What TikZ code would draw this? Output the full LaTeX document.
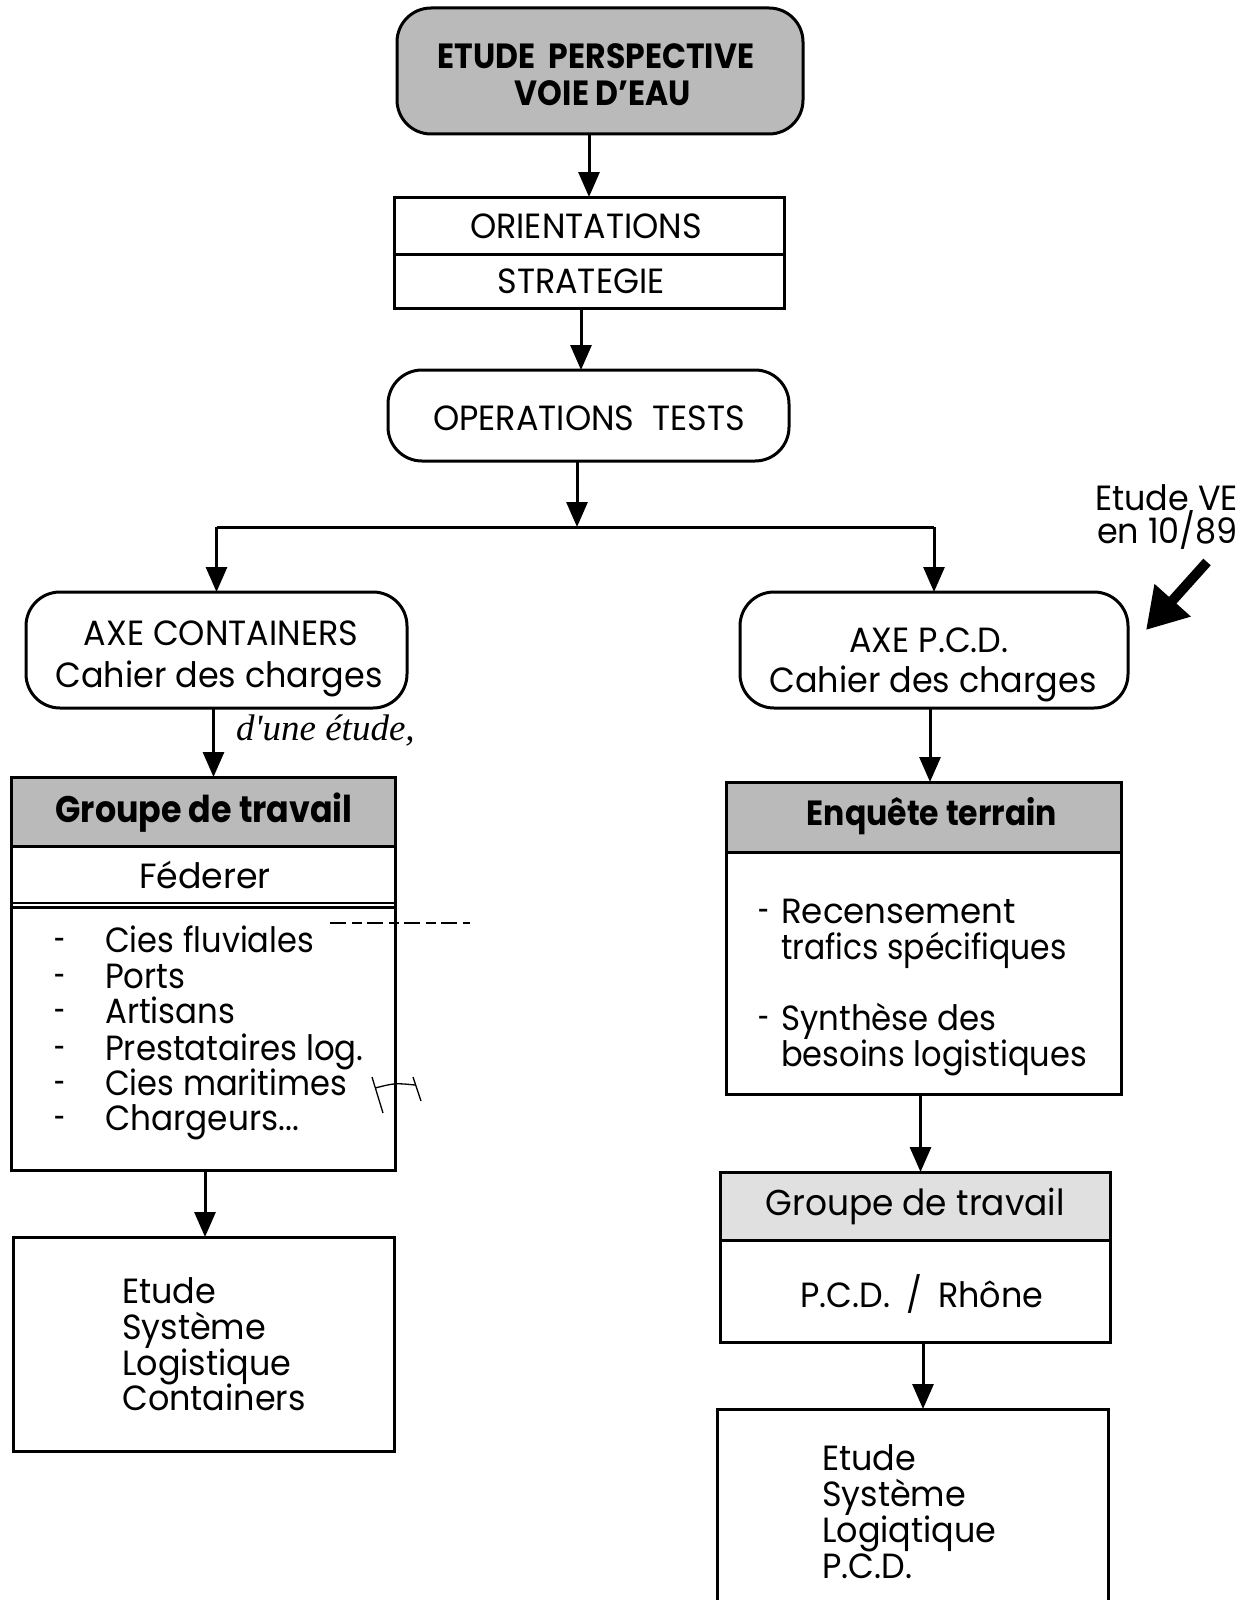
\documentclass[tikz,border=0pt]{standalone}
\usepackage{graphicx}
\usepackage{fontspec}
\setmainfont{Poppins}[FakeStretch=0.955, BoldFeatures={FakeStretch=0.9}]
\newfontfamily\handfont{Liberation Serif}
\usetikzlibrary{arrows.meta}
\newcommand\dgbody{\fontsize{35}{37}\selectfont}
\newcommand\dghead{\fontsize{35}{37}\selectfont\bfseries}
\newcommand\shortdash{\scalebox{0.6}[1]{-}}
\newcommand\narrow[2]{\scalebox{#1}[1]{#2}}
\begin{document}
\begin{tikzpicture}[x=1pt,y=-1pt,
  frame/.style={draw, line width=3pt, inner sep=0pt, outer sep=0pt},
  sqbox/.style={frame, rectangle},
  rbox/.style={frame, rounded corners=34pt},
  halftone/.style={fill=black!27},
  lighttone/.style={fill=black!12},
  flow/.style={line width=3pt, -{Triangle[length=25pt,width=21pt]}},
  lbl/.style={anchor=base, inner sep=0pt, font=\dgbody},
  hlbl/.style={anchor=base, inner sep=0pt, font=\dghead},
  item/.style={anchor=base west, inner sep=0pt, font=\dgbody},
]
\useasboundingbox (0,0) rectangle (1256,1600);
\fill[white] (0,0) rectangle (1256,1600);
\clip (0,0) rectangle (1256,1600);

% --- main column ---
\node[rbox, halftone, minimum width=406, minimum height=126] (top) at (600,71) {};
\node[hlbl] (top1) at (596,69) {ETUDE\ \ PERSPECTIVE};
\node[hlbl] (top2) at (603,106) {VOIE D'EAU};

\node[sqbox, minimum width=390, minimum height=57] (orient) at (589,225.5) {};
\node[sqbox, minimum width=390, minimum height=54] (strat) at (589,281) {};
\node[lbl] (orientt) at (586,238) {ORIENTATIONS};
\node[lbl] (stratt) at (581,293) {STRATEGIE};

\node[rbox, minimum width=401, minimum height=91] (optests) at (588.5,415.5) {};
\node[lbl] (optestst) at (589,430) {OPERATIONS\ \ TESTS};

\coordinate (split) at (577,527);

% --- two axes ---
\node[rbox, minimum width=381, minimum height=116] (axec) at (216.5,650) {};
\node[lbl] (axec1) at (221,645) {AXE CONTAINERS};
\node[lbl] (axec2) at (219,687) {Cahier des charges};

\node[rbox, minimum width=388, minimum height=116] (axep) at (934,650) {};
\node[lbl] (axep1) at (929,652) {AXE P.C.D.};
\node[lbl] (axep2) at (933,692) {Cahier des charges};

% --- left branch ---
\node[sqbox, halftone, minimum width=384, minimum height=69] (grp1h) at (203,811.5) {};
\node[sqbox, minimum width=384, minimum height=61] (fed) at (203,876.5) {};
\node[sqbox, minimum width=384, minimum height=263] (list1) at (203,1038.5) {};
\draw[line width=2pt] ([yshift=4pt]list1.north west) -- ([yshift=4pt]list1.north east);
\node[hlbl, font=\fontsize{37}{39}\selectfont\bfseries] (grp1t) at (204,822) {Groupe de travail};
\node[lbl] (fedt) at (205,888) {\narrow{1.04}{Féderer}};
\foreach \i/\y/\s/\t in {1/952/0.96/{Cies fluviales}, 2/988/0.97/{Ports}, 3/1023/0.97/{Artisans},
                      4/1060/0.97/{Prestataires log.}, 5/1095/0.96/{Cies maritimes}, 6/1130/0.98/{Chargeurs.{}.{}.}}{
  \node[lbl] (dl\i) at (60,\y) {\shortdash};
  \node[item] (il\i) at (105,\y) {\narrow{\s}{\t}};
}

\node[sqbox, minimum width=381, minimum height=214] (etude1) at (203.5,1344) {};
\foreach \i/\y/\t in {1/1303/Etude, 2/1339/Système, 3/1375/Logistique, 4/1410/Containers}{
  \node[item] (e1l\i) at (122,\y) {\t};
}

% --- right branch ---
\node[sqbox, halftone, minimum width=395, minimum height=70] (enqh) at (923.5,817) {};
\node[sqbox, minimum width=395, minimum height=242] (enqb) at (923.5,973) {};
\node[hlbl] (enqt) at (932,825) {Enquête terrain};
\node[lbl] (dr1) at (764,923) {\shortdash};
\node[item] (ir1) at (781,923) {\narrow{1.02}{Recensement}};
\node[item] (ir2) at (781,959) {\narrow{0.94}{trafics spécifiques}};
\node[lbl] (dr3) at (764,1030) {\shortdash};
\node[item] (ir3) at (781,1030) {\narrow{0.97}{Synthèse des}};
\node[item] (ir4) at (781,1066) {\narrow{0.96}{besoins logistiques}};

\node[sqbox, lighttone, minimum width=390, minimum height=68] (grp2h) at (915,1206) {};
\node[sqbox, minimum width=390, minimum height=102] (pcd) at (915,1291) {};
\node[lbl, font=\fontsize{36}{38}\selectfont] (grp2t) at (915,1215) {Groupe de travail};
\node[lbl] (pcdt) at (922,1307) {P.C.D.\hspace{7pt} /\hspace{7pt} Rhône};

\node[sqbox, minimum width=391, minimum height=210, anchor=north] (etude2) at (912.5,1409) {};
\foreach \i/\y/\t in {1/1470/Etude, 2/1506/Système, 3/1542/Logiqtique, 4/1578/P.C.D.}{
  \node[item] (e2l\i) at (822,\y) {\t};
}

% --- annotation ---
\node[anchor=base east, inner sep=0pt, font=\dgbody] (ve1) at (1238,510) {Etude VE};
\node[anchor=base east, inner sep=0pt, font=\dgbody] (ve2) at (1238,543) {en 10/89};
\coordinate (vetail) at (1207,562);
\coordinate (vetip) at (1146,630);
\draw[line width=10pt, -{Triangle[length=40pt,width=46pt]}] (vetail) -- (vetip);

% --- connectors ---
\draw[flow] (orient.north |- top.south) -- (orient.north);
\draw[flow] ([xshift=-8pt]strat.south) coordinate (s1) -- (s1 |- optests.north);
\draw[line width=3pt] (split -| axec.north) -- (split -| axep.north);
\draw[flow] ([xshift=-11.5pt]optests.south) -- (split);
\draw[flow] (split -| axec.north) -- (axec.north);
\draw[flow] (split -| axep.north) -- (axep.north);
\draw[flow] ([xshift=-3pt]axec.south) coordinate (s2) -- (s2 |- grp1h.north);
\draw[flow] ([xshift=-4pt]axep.south) coordinate (s3) -- (s3 |- enqh.north);
\draw[flow] ([xshift=2pt]list1.south) coordinate (s4) -- (s4 |- etude1.north);
\draw[flow] ([xshift=-3pt]enqb.south) coordinate (s5) -- (s5 |- grp2h.north);
\draw[flow] ([xshift=8pt]pcd.south) coordinate (s6) -- (s6 |- etude2.north);

% --- pencil marks ---
\node[anchor=base west, inner sep=0pt, font=\handfont\itshape\fontsize{37}{39}\selectfont] (hand) at (236,740) {d'une étude,};
\draw[line width=1.2pt, dash pattern=on 16pt off 6pt on 10pt off 5pt] (330,923) -- (470,923);
\draw[line width=1.3pt] (372,1077) -- (383,1113) (375,1088) .. controls (395,1083) .. (415,1085) (413,1077) -- (421,1101);
\end{tikzpicture}
\end{document}
